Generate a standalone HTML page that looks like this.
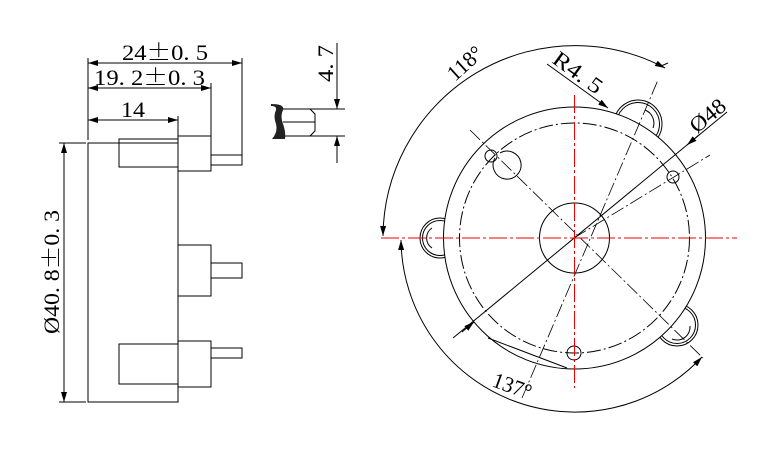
<!DOCTYPE html>
<html><head><meta charset="utf-8"><style>html,body{margin:0;padding:0;background:#fff}svg{display:block}text{font-family:"Liberation Serif","Noto Serif CJK SC",serif;fill:#000}.c{font-family:"Noto Serif CJK SC","Noto Sans CJK SC",serif}</style></head><body>
<svg width="767" height="464" viewBox="0 0 767 464" xmlns="http://www.w3.org/2000/svg">
<defs>
<marker id="a" viewBox="0 0 10 6" refX="10" refY="3" markerWidth="10" markerHeight="6" orient="auto-start-reverse" markerUnits="userSpaceOnUse"><path d="M0,0 L10,3 L0,6z" fill="#000"/></marker>
</defs>
<g stroke="#000" stroke-width="1" fill="none">
<rect x="88" y="143" width="90" height="259"/>
<rect x="119" y="139" width="59" height="28"/>
<rect x="178" y="136" width="33" height="35"/>
<rect x="211" y="155" width="31" height="10"/>
<rect x="178" y="245" width="33" height="51"/>
<rect x="211" y="263" width="31" height="15"/>
<rect x="119" y="344" width="59" height="40"/>
<rect x="178" y="341" width="33" height="46"/>
<rect x="211" y="348" width="31" height="10"/>
<line x1="88" y1="58" x2="88" y2="140"/>
<line x1="242" y1="58" x2="242" y2="155"/>
<line x1="211" y1="83" x2="211" y2="136"/>
<line x1="178" y1="116" x2="178" y2="136"/>
<line x1="88" y1="63" x2="242" y2="63" marker-start="url(#a)" marker-end="url(#a)"/>
<line x1="88" y1="88" x2="211" y2="88" marker-start="url(#a)" marker-end="url(#a)"/>
<line x1="88" y1="120" x2="178" y2="120" marker-start="url(#a)" marker-end="url(#a)"/>
<line x1="59" y1="143" x2="86" y2="143"/>
<line x1="59" y1="402" x2="86" y2="402"/>
<line x1="64" y1="143" x2="64" y2="402" marker-start="url(#a)" marker-end="url(#a)"/>
<line x1="283" y1="109" x2="345" y2="109"/>
<line x1="283" y1="122" x2="315" y2="122"/>
<line x1="283" y1="136" x2="345" y2="136"/>
<path d="M310,109 L315,114 L315,131 L310,136"/>
<line x1="337" y1="43" x2="337" y2="109" marker-end="url(#a)"/>
<line x1="337" y1="163" x2="337" y2="136" marker-end="url(#a)"/>
</g>
<path d="M271,104 Q285,104 283,110 Q280,116 283,124 Q286,132 285,139 L272,139 Q278,132 276,124 Q273,116 276,110 Q277,106 271,106 Z" fill="#222"/>
<text x="122" y="60" font-size="22" textLength="86" lengthAdjust="spacingAndGlyphs">24<tspan class="c">±</tspan>0. 5</text>
<text x="94" y="85" font-size="22" textLength="111" lengthAdjust="spacingAndGlyphs">19. 2<tspan class="c">±</tspan>0. 3</text>
<text x="121" y="117" font-size="22" textLength="24" lengthAdjust="spacingAndGlyphs">14</text>
<text transform="translate(59,334) rotate(-90)" font-size="22" textLength="124" lengthAdjust="spacingAndGlyphs">Ø40. 8<tspan class="c">±</tspan>0. 3</text>
<text transform="translate(333,82) rotate(-90)" font-size="22" textLength="37" lengthAdjust="spacingAndGlyphs">4. 7</text>

<g stroke="#000" stroke-width="1" fill="none">
<circle cx="638" cy="124" r="24"/><circle cx="638" cy="124" r="21.5"/>
<circle cx="440" cy="238" r="20"/><circle cx="440" cy="238" r="17.5"/>
<circle cx="677" cy="325" r="21"/><circle cx="677" cy="325" r="18.5"/>
<circle cx="574.5" cy="238" r="131" fill="#fff"/>
<path d="M645,110 A14,14 0 0 1 653,128"/>
<path d="M432,228 A12,12 0 0 0 432,248"/>
<path d="M690,326 A13,13 0 0 1 672,339"/>
<circle cx="574.5" cy="238" r="115" stroke-dasharray="14,3,2,3"/>
<circle cx="574.5" cy="238" r="35"/>
<path d="M495,158 A14,14 0 1 0 500,153"/>
<circle cx="491" cy="156" r="6"/>
<circle cx="673" cy="177" r="6"/>
<circle cx="574" cy="353" r="7"/>
<line x1="488" y1="338" x2="567" y2="368"/>
<line x1="453" y1="338" x2="727" y2="112"/>
<line x1="462" y1="332" x2="474" y2="322" marker-end="url(#a)"/>
<line x1="700" y1="134" x2="687" y2="145" marker-end="url(#a)"/>
<line x1="547" y1="64" x2="608" y2="108" marker-end="url(#a)"/>
<g stroke-dasharray="14,3,2,3" stroke-width="0.8">
<line x1="522" y1="398" x2="658" y2="80"/>
<line x1="470" y1="130" x2="703" y2="358"/>
<line x1="574" y1="238" x2="710" y2="155"/>
</g>
<path d="M383,236 A192,192 0 0 1 665,68" marker-start="url(#a)" marker-end="url(#a)"/>
<path d="M401,240 A174,174 0 0 0 702,357" marker-start="url(#a)" marker-end="url(#a)"/>
<line x1="661" y1="66" x2="668" y2="63"/>
</g>
<g stroke="#e00" stroke-width="1" stroke-dasharray="18,3,3,3">
<line x1="381" y1="238" x2="737" y2="238"/>
<line x1="574.5" y1="95" x2="574.5" y2="388"/>
</g>
<text transform="translate(455,82) rotate(-42)" font-size="22" textLength="40" lengthAdjust="spacingAndGlyphs">118°</text>
<text transform="translate(551,62) rotate(36)" font-size="22" textLength="56" lengthAdjust="spacingAndGlyphs">R4. 5</text>
<text transform="translate(697,134) rotate(-40)" font-size="22" textLength="40" lengthAdjust="spacingAndGlyphs">Ø48</text>
<text transform="translate(491,386) rotate(20)" font-size="22" textLength="40" lengthAdjust="spacingAndGlyphs">137°</text>
</svg>
</body></html>
